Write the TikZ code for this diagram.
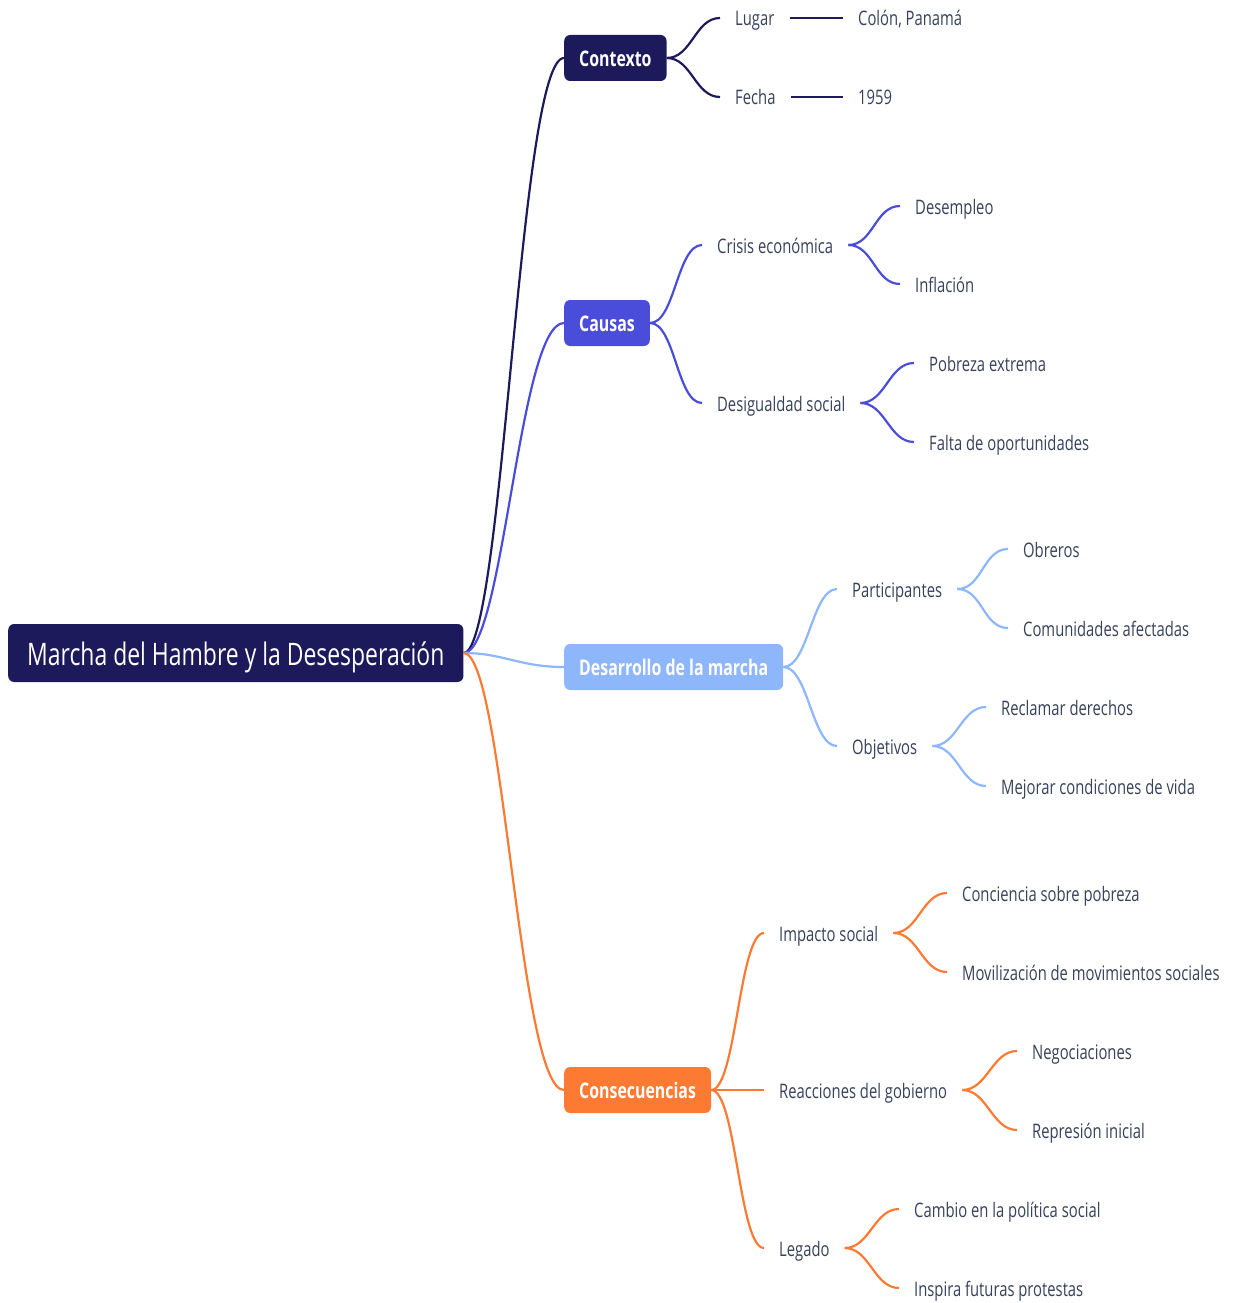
\documentclass[tikz,border=0pt]{standalone}
\usepackage{fontspec}
\setmainfont{Open Sans}[FakeStretch=0.74]
\usetikzlibrary{positioning}
\definecolor{navyc}{HTML}{1C1A5A}
\definecolor{royalc}{HTML}{4A4DDA}
\definecolor{skyc}{HTML}{8DB6FB}
\definecolor{orangec}{HTML}{FD7A33}
\definecolor{txtc}{HTML}{36415A}
\tikzset{
    rootsty/.style={fill=navyc,text=white,rounded corners=6pt,anchor=west,
        minimum height=58pt,inner xsep=19pt,text height=28pt,text depth=3pt,
        font=\fontsize{31}{36}\selectfont},
    brsty/.style={fill=#1,text=white,rounded corners=6pt,anchor=west,
        minimum height=46pt,inner xsep=15pt,text height=20pt,text depth=3pt,
        font=\bfseries\fontsize{21.5}{26}\selectfont},
    lblsty/.style={text=txtc,anchor=west,inner xsep=15pt,inner ysep=0pt,
        text height=19pt,text depth=3pt,font=\fontsize{20}{24}\selectfont},
    linesty/.style={draw=#1,line width=2.2pt},
}
\begin{document}
\begin{tikzpicture}[x=1pt,y=-1pt]
\useasboundingbox (0,0) rectangle (1235,1303);

% root and main branches
\node[rootsty] (root) at (8,653) {Marcha del Hambre y la Desesperación};
\node[brsty=navyc] (ctx) at (564,58) {Contexto};
\node[brsty=royalc] (cau) at (564,323) {Causas};
\node[brsty=skyc] (des) at (564,667) {Desarrollo de la marcha};
\node[brsty=orangec] (con) at (564,1090) {Consecuencias};

\draw[linesty=navyc] (root.east) .. controls +(40,0) and +(-45,0) .. (ctx.west);
\draw[linesty=royalc] (root.east) .. controls +(40,0) and +(-45,0) .. (cau.west);
\draw[linesty=skyc] (root.east) .. controls +(40,0) and +(-45,0) .. (des.west);
\draw[linesty=orangec] (root.east) .. controls +(40,0) and +(-45,0) .. (con.west);

% Contexto
\node[lblsty] (lug) at (720,18) {Lugar};
\node[lblsty] (fec) at (720,97) {Fecha};
\node[lblsty] (col) at (843,18) {Colón, Panamá};
\node[lblsty] (anio) at (843,97) {1959};
\foreach \t in {lug,fec}
  \draw[linesty=navyc] (ctx.east) .. controls +(25,0) and +(-25,0) .. (\t.west);
\draw[linesty=navyc] (lug.east) -- (col.west);
\draw[linesty=navyc] (fec.east) -- (anio.west);

% Causas
\node[lblsty] (cri) at (702,245) {Crisis económica};
\node[lblsty] (dsg) at (702,403) {Desigualdad social};
\node[lblsty] (dsm) at (900,206) {Desempleo};
\node[lblsty] (inf) at (900,284) {Inflación};
\node[lblsty] (pob) at (914,363) {Pobreza extrema};
\node[lblsty] (fal) at (914,442) {Falta de oportunidades};
\foreach \t in {cri,dsg}
  \draw[linesty=royalc] (cau.east) .. controls +(25,0) and +(-25,0) .. (\t.west);
\foreach \t in {dsm,inf}
  \draw[linesty=royalc] (cri.east) .. controls +(25,0) and +(-25,0) .. (\t.west);
\foreach \t in {pob,fal}
  \draw[linesty=royalc] (dsg.east) .. controls +(25,0) and +(-25,0) .. (\t.west);

% Desarrollo
\node[lblsty] (par) at (837,589) {Participantes};
\node[lblsty] (obj) at (837,746) {Objetivos};
\node[lblsty] (obr) at (1008,549) {Obreros};
\node[lblsty] (com) at (1008,628) {Comunidades afectadas};
\node[lblsty] (rec) at (986,707) {Reclamar derechos};
\node[lblsty] (mej) at (986,786) {Mejorar condiciones de vida};
\foreach \t in {par,obj}
  \draw[linesty=skyc] (des.east) .. controls +(25,0) and +(-25,0) .. (\t.west);
\foreach \t in {obr,com}
  \draw[linesty=skyc] (par.east) .. controls +(25,0) and +(-25,0) .. (\t.west);
\foreach \t in {rec,mej}
  \draw[linesty=skyc] (obj.east) .. controls +(25,0) and +(-25,0) .. (\t.west);

% Consecuencias
\node[lblsty] (imp) at (764,933) {Impacto social};
\node[lblsty] (rea) at (764,1090) {Reacciones del gobierno};
\node[lblsty] (leg) at (764,1248) {Legado};
\node[lblsty] (cnc) at (947,893) {Conciencia sobre pobreza};
\node[lblsty] (mov) at (947,972) {Movilización de movimientos sociales};
\node[lblsty] (neg) at (1017,1051) {Negociaciones};
\node[lblsty] (rep) at (1017,1130) {Represión inicial};
\node[lblsty] (cam) at (899,1209) {Cambio en la política social};
\node[lblsty] (ins) at (899,1288) {Inspira futuras protestas};
\foreach \t in {imp,rea,leg}
  \draw[linesty=orangec] (con.east) .. controls +(25,0) and +(-25,0) .. (\t.west);
\foreach \t in {cnc,mov}
  \draw[linesty=orangec] (imp.east) .. controls +(25,0) and +(-25,0) .. (\t.west);
\foreach \t in {neg,rep}
  \draw[linesty=orangec] (rea.east) .. controls +(25,0) and +(-25,0) .. (\t.west);
\foreach \t in {cam,ins}
  \draw[linesty=orangec] (leg.east) .. controls +(25,0) and +(-25,0) .. (\t.west);
\end{tikzpicture}
\end{document}
